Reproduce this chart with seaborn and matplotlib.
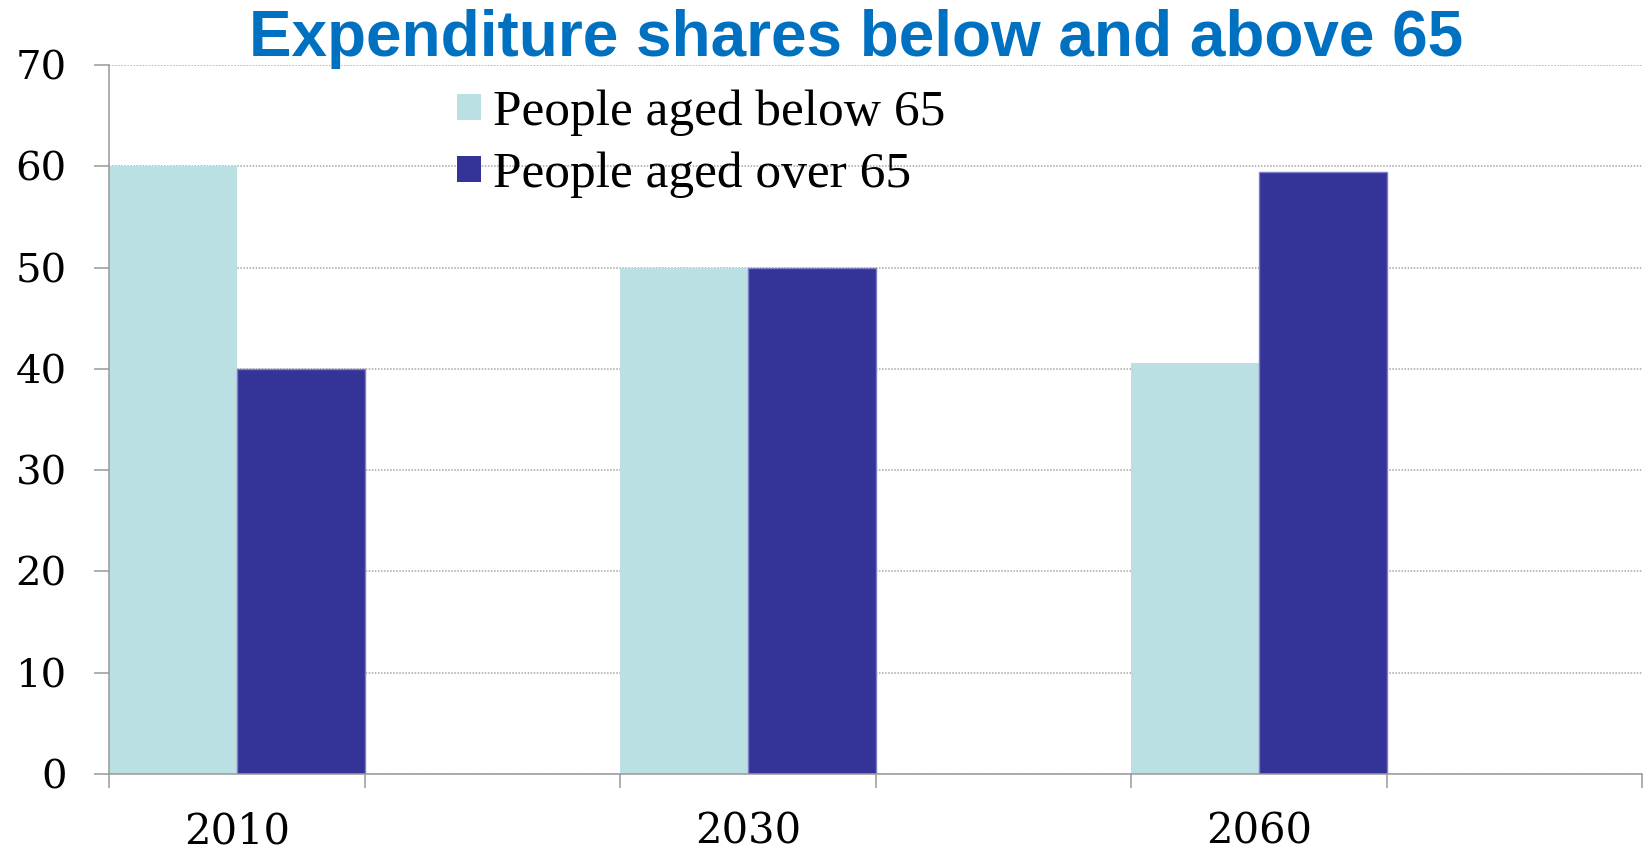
import matplotlib
matplotlib.use("Agg")
import matplotlib.pyplot as plt
import seaborn as sns
import pandas as pd
from matplotlib.ticker import FixedLocator, NullFormatter, FixedFormatter

# Expenditure shares (%) by age group
years = ["2010", "2030", "2060"]
below_65 = [60.0, 50.0, 40.6]
over_65 = [40.0, 50.0, 59.4]
series_names = ["People aged below 65", "People aged over 65"]
y_ticks = [0, 10, 20, 30, 40, 50, 60, 70]
title = "Expenditure shares below and above 65"

df = pd.DataFrame({
    "year": years * 2,
    "share": below_65 + over_65,
    "group": [series_names[0]] * len(years) + [series_names[1]] * len(years),
})

# every year slot is followed by an empty slot of equal width
slot_order = []
for i, y in enumerate(years):
    slot_order += [y, " " * (i + 1)]

sns.set_theme(style="white")
plt.rcParams["font.family"] = ["DejaVu Serif"]

W, H = 1643, 852
fig = plt.figure(figsize=(W / 100, H / 100), dpi=100)
ax = fig.add_axes([109 / W, 1 - 774 / H, (1642 - 109) / W, (774 - 65) / H])

sns.barplot(data=df, x="year", y="share", hue="group", order=slot_order,
            hue_order=series_names, palette=["#BAE0E3", "#343397"],
            width=1.0, gap=0, saturation=1, errorbar=None, linewidth=0,
            ax=ax)

for patch in ax.containers[1]:
    patch.set_edgecolor("#7e7ec2")
    patch.set_linewidth(1.0)

ax.set_xlim(-0.5, len(slot_order) - 0.5)
ax.set_ylim(0, 70)
ax.set_xlabel("")
ax.set_ylabel("")

# category boundaries get tick marks, year labels sit at slot centres
ax.xaxis.set_major_locator(FixedLocator([i - 0.5 for i in range(len(slot_order) + 1)]))
ax.xaxis.set_major_formatter(NullFormatter())
ax.xaxis.set_minor_locator(FixedLocator([2 * i for i in range(len(years))]))
ax.xaxis.set_minor_formatter(FixedFormatter(years))
ax.tick_params(axis="x", which="major", bottom=True, length=10, width=1.1,
               color="#999999", direction="out")
ax.tick_params(axis="x", which="minor", bottom=True, length=0, pad=26,
               labelsize=30, labelcolor="black")

ax.set_yticks(y_ticks)
ax.tick_params(axis="y", which="major", left=True, length=10.5, width=1.1,
               color="#999999", direction="out", pad=20, labelsize=29,
               labelcolor="black")

ax.set_axisbelow(True)
ax.yaxis.grid(True, linestyle=(0, (1, 1)), color="#a6a6a6", linewidth=1.1)
ax.xaxis.grid(False)
for side in ["top", "right"]:
    ax.spines[side].set_visible(False)
for side in ["left", "bottom"]:
    ax.spines[side].set_color("#999999")
    ax.spines[side].set_linewidth(1.1)

handles, labels = ax.get_legend_handles_labels()
leg = ax.legend(handles, labels, prop=dict(family="Liberation Serif", size=37),
                frameon=False, loc="upper left",
                bbox_to_anchor=(457 / W, 1 - 90 / H), bbox_transform=fig.transFigure,
                handlelength=0.47, handleheight=0.42, handletextpad=0.24,
                labelspacing=0.3, borderpad=0, borderaxespad=0)
for txt in leg.get_texts():
    txt.set_color("black")

fig.text(856 / W, 1 - 56 / H, title, ha="center", va="baseline",
         color="#0070C0", fontsize=46, fontweight="bold",
         family="Liberation Sans")

fig.savefig("out.png", dpi=100)
